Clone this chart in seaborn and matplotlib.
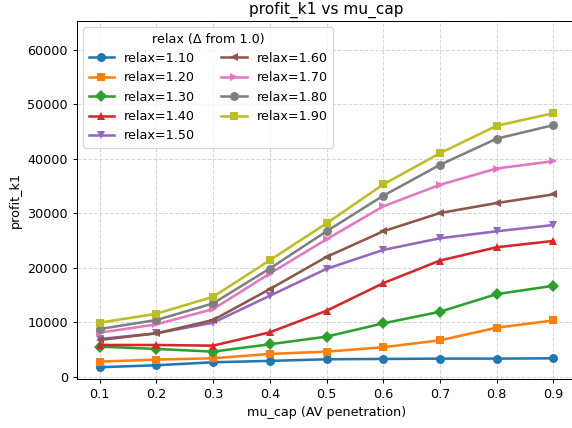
import matplotlib
matplotlib.use("Agg")
import matplotlib.pyplot as plt
import pandas as pd
import seaborn as sns

# values
mu_cap = [0.1, 0.2, 0.3, 0.4, 0.5, 0.6, 0.7, 0.8, 0.9]
relax_levels = ["1.10", "1.20", "1.30", "1.40", "1.50", "1.60", "1.70", "1.80", "1.90"]

profit_110 = [1710, 2070, 2620, 2870, 3170, 3230, 3290, 3290, 3350]
profit_120 = [2740, 3110, 3350, 4150, 4570, 5370, 6650, 8960, 10300]
profit_130 = [5490, 5060, 4570, 5920, 7320, 9760, 11890, 15120, 16650]
profit_140 = [5790, 5790, 5670, 8110, 12070, 17130, 21280, 23720, 24880]
profit_150 = [6890, 7930, 9880, 14820, 19760, 23230, 25370, 26650, 27800]
profit_160 = [6710, 7930, 10370, 16040, 21950, 26650, 30000, 31830, 33420]
profit_170 = [8050, 9570, 12380, 18900, 25180, 31220, 35180, 38170, 39510]
profit_180 = [8720, 10370, 13420, 19820, 26650, 33170, 38840, 43640, 46120]
profit_190 = [9880, 11520, 14630, 21340, 28110, 35240, 40980, 46000, 48320]

series = [profit_110, profit_120, profit_130, profit_140, profit_150,
          profit_160, profit_170, profit_180, profit_190]
markers = ["o", "s", "D", "^", "v", "<", ">", "o", "s"]

rows = []
for level, values in zip(relax_levels, series):
    for x, y in zip(mu_cap, values):
        rows.append({"mu_cap": x, "profit_k1": y, "relax": f"relax={level}"})
df = pd.DataFrame(rows)

# reference looks like a slightly downscaled render, so use a lower dpi
dpi = 92
fig = plt.figure(figsize=(572 / dpi, 428 / dpi), dpi=dpi)
ax = fig.add_axes([77 / 572, 49 / 428, 499 / 572, 358 / 428])

sns.lineplot(
    data=df,
    x="mu_cap",
    y="profit_k1",
    hue="relax",
    style="relax",
    markers=markers,
    dashes=False,
    palette="tab10",
    linewidth=2,
    markersize=7,
    markeredgewidth=0,
    ax=ax,
)

ax.set_ylim(-450, max(profit_190) * 1.35)
ax.set_xticks(mu_cap)
ax.grid(True, linestyle="--", alpha=0.5)
ax.set_title("profit_k1 vs mu_cap", fontsize=12)
ax.set(xlabel="mu_cap (AV penetration)", ylabel="profit_k1")
ax.legend(title="relax (Δ from 1.0)", ncol=2, loc="upper left")

plt.savefig("out.png", dpi=dpi)
